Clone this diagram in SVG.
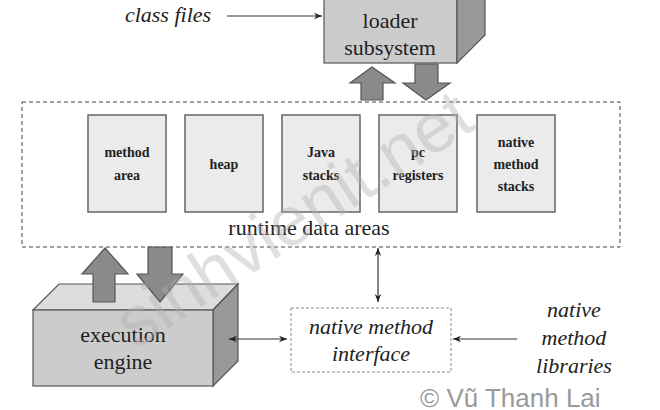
<svg xmlns="http://www.w3.org/2000/svg" width="660" height="410" viewBox="0 0 660 410">
<defs>
<marker id="ah" viewBox="0 0 10 10" refX="10" refY="5" markerWidth="8" markerHeight="8" orient="auto-start-reverse" markerUnits="userSpaceOnUse">
<path d="M0,1 L10,5 L0,9 L3,5 Z" fill="#222"/>
</marker>
<style>
.front{fill:#cccccc;stroke:#555;stroke-width:1.2}
.side{fill:#999999;stroke:#555;stroke-width:1.2}
.top{fill:#dddddd;stroke:#555;stroke-width:1.2}
.fat{fill:#8a8a8a;stroke:#555;stroke-width:1.2}
.mem{fill:#ebebeb;stroke:#666;stroke-width:1.5}
.con{stroke:#333;stroke-width:1.2;fill:none}
</style>
</defs>
<rect width="660" height="410" fill="#fff"/>

<g id="loader">
<rect class="front" x="324" y="-5" width="133" height="68"/>
<polygon class="side" points="457,-5 485,-5 485,35 457,63"/>
<text x="390" y="28" font-family="Liberation Serif, serif" font-size="22" fill="#222" text-anchor="middle">loader</text>
<text x="390" y="55" font-family="Liberation Serif, serif" font-size="22" fill="#222" text-anchor="middle">subsystem</text>
</g>

<g id="runtime">
<rect x="22" y="102" width="598" height="145" fill="none" stroke="#444" stroke-width="1" stroke-dasharray="4,3"/>
<text x="309" y="235" font-family="Liberation Serif, serif" font-size="22" fill="#222" text-anchor="middle">runtime data areas</text>
</g>
<g id="method-area">
<rect class="mem" x="88" y="115" width="78" height="97"/>
<text x="127" y="157" font-family="Liberation Serif, serif" font-size="14" font-weight="bold" fill="#222" text-anchor="middle">method</text>
<text x="127" y="180" font-family="Liberation Serif, serif" font-size="14" font-weight="bold" fill="#222" text-anchor="middle">area</text>
</g>
<g id="heap">
<rect class="mem" x="185" y="115" width="78" height="97"/>
<text x="224" y="169" font-family="Liberation Serif, serif" font-size="14" font-weight="bold" fill="#222" text-anchor="middle">heap</text>
</g>
<g id="java-stacks">
<rect class="mem" x="282" y="115" width="78" height="97"/>
<text x="321" y="157" font-family="Liberation Serif, serif" font-size="14" font-weight="bold" fill="#222" text-anchor="middle">Java</text>
<text x="321" y="180" font-family="Liberation Serif, serif" font-size="14" font-weight="bold" fill="#222" text-anchor="middle">stacks</text>
</g>
<g id="pc-registers">
<rect class="mem" x="379" y="115" width="78" height="97"/>
<text x="418" y="157" font-family="Liberation Serif, serif" font-size="14" font-weight="bold" fill="#222" text-anchor="middle">pc</text>
<text x="418" y="180" font-family="Liberation Serif, serif" font-size="14" font-weight="bold" fill="#222" text-anchor="middle">registers</text>
</g>
<g id="native-method-stacks">
<rect class="mem" x="477" y="115" width="78" height="97"/>
<text x="516" y="147" font-family="Liberation Serif, serif" font-size="14" font-weight="bold" fill="#222" text-anchor="middle">native</text>
<text x="516" y="169" font-family="Liberation Serif, serif" font-size="14" font-weight="bold" fill="#222" text-anchor="middle">method</text>
<text x="516" y="191" font-family="Liberation Serif, serif" font-size="14" font-weight="bold" fill="#222" text-anchor="middle">stacks</text>
</g>

<g id="execution-engine">
<polygon class="top" points="33,310 59,284 238,284 213,310"/>
<polygon class="side" points="213,310 238,284 238,361 213,386"/>
<rect class="front" x="33" y="310" width="180" height="76"/>
<text x="123" y="342" font-family="Liberation Serif, serif" font-size="22" fill="#222" text-anchor="middle">execution</text>
<text x="123" y="369" font-family="Liberation Serif, serif" font-size="22" fill="#222" text-anchor="middle">engine</text>
</g>

<g id="native-method-interface">
<rect x="291" y="308" width="160" height="64" fill="#fff" stroke="#888" stroke-width="1" stroke-dasharray="3,2"/>
<text x="371" y="334" font-family="Liberation Serif, serif" font-size="22" font-style="italic" fill="#222" text-anchor="middle">native method</text>
<text x="371" y="361" font-family="Liberation Serif, serif" font-size="22" font-style="italic" fill="#222" text-anchor="middle">interface</text>
</g>

<g id="native-method-libraries">
<text x="574" y="317" font-family="Liberation Serif, serif" font-size="22" font-style="italic" fill="#222" text-anchor="middle">native</text>
<text x="574" y="345" font-family="Liberation Serif, serif" font-size="22" font-style="italic" fill="#222" text-anchor="middle">method</text>
<text x="574" y="373" font-family="Liberation Serif, serif" font-size="22" font-style="italic" fill="#222" text-anchor="middle">libraries</text>
</g>

<g id="class-files">
<text x="168" y="22" font-family="Liberation Serif, serif" font-size="22" font-style="italic" fill="#222" text-anchor="middle">class files</text>
</g>

<g id="connectors">
<line class="con" x1="227" y1="16" x2="322" y2="16" marker-end="url(#ah)"/>
<polygon class="fat" points="361,100 361,83 350,83 372,67 395,83 383,83 383,100"/>
<polygon class="fat" points="415,64 438,64 438,83 450,83 426,100 403,83 415,83"/>
<polygon class="fat" points="93,302 93,274 82,274 105,248 128,274 115,274 115,302"/>
<polygon class="fat" points="148,247 172,247 172,274 183,274 160,302 137,274 148,274"/>
<line class="con" x1="378" y1="248" x2="378" y2="302" marker-start="url(#ah)" marker-end="url(#ah)"/>
<line class="con" x1="229" y1="339" x2="287" y2="339" marker-start="url(#ah)" marker-end="url(#ah)"/>
<line class="con" x1="517" y1="339" x2="453" y2="339" marker-end="url(#ah)"/>
</g>

<g id="watermark" fill="#b0b0b0" opacity="0.4">
<text x="135" y="350" font-size="70" transform="rotate(-33 135 350)" font-family="Liberation Sans, sans-serif">sinhvienit.net</text>
</g>
<text x="420" y="407" font-size="26" fill="#999" font-family="Liberation Sans, sans-serif">&#169; V&#361; Thanh Lai</text>
</svg>
